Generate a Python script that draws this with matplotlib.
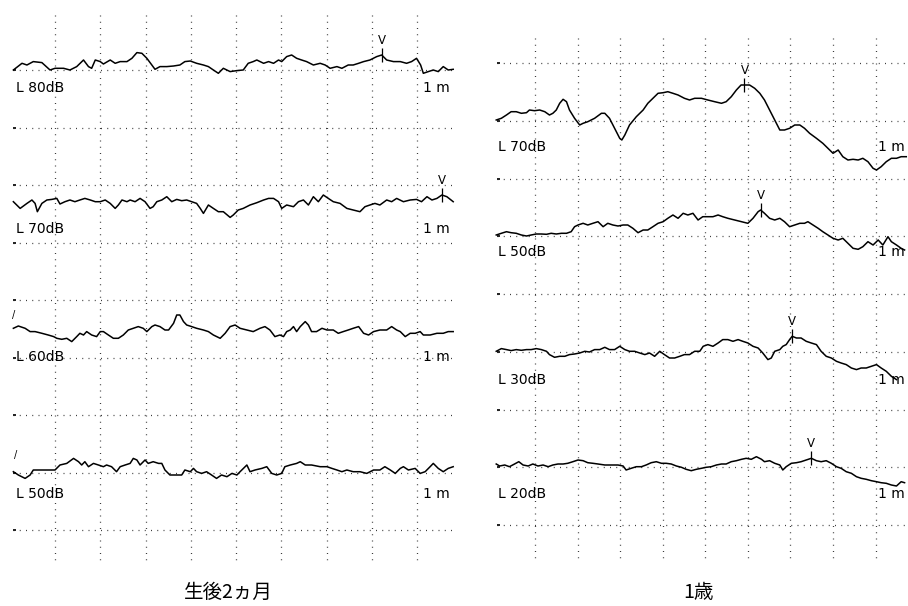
import numpy as np
import matplotlib
matplotlib.use('Agg')
import matplotlib.pyplot as plt

plt.rcParams['font.family'] = ['DejaVu Sans']

# --- left panel (2 months), times in ms, amplitudes in display units ---
t_l80 = [0.08, 0.27, 0.38, 0.52, 0.71, 0.89, 1.00, 1.19, 1.33, 1.48,
         1.63, 1.74, 1.81, 1.89, 2.00, 2.07, 2.22, 2.33, 2.44, 2.59,
         2.70, 2.81, 2.92, 3.03, 3.14, 3.21, 3.32, 3.47, 3.62, 3.76,
         3.87, 3.99, 4.13, 4.28, 4.39, 4.50, 4.61, 4.72, 4.87, 5.02,
         5.16, 5.27, 5.38, 5.46, 5.61, 5.72, 5.83, 5.94, 6.01, 6.12,
         6.23, 6.34, 6.45, 6.56, 6.71, 6.86, 6.97, 7.08, 7.23, 7.34,
         7.48, 7.59, 7.71, 7.82, 7.96, 8.11, 8.22, 8.33, 8.48, 8.63,
         8.77, 8.88, 8.99, 9.08, 9.14, 9.25, 9.36, 9.47, 9.58, 9.69, 9.80]
a_l80 = [-0.7, 6, 4.3, 7.7, 6.7, -0.7, 1, 1, -0.7, 2.7,
         9.3, 2.7, 1, 9.3, 7.7, 5.3, 9.3, 6, 7.7, 7.7,
         11, 16.7, 16, 11, 4.3, 0, 2.7, 2.7, 3.3, 4.3,
         7.7, 8.3, 6, 4.3, 2.7, -0.7, -4, 1, -2.3, -1.3,
         -0.7, 6, 7.7, 9.3, 6, 7.7, 6, 9.3, 7.7, 12.7,
         14.3, 11, 9.3, 7.7, 4.3, 6, 4.3, 1, 2.7, 1,
         4.3, 4.3, 6, 7.7, 9.3, 12.7, 14.3, 9.3, 7.7, 7.7,
         6, 7.7, 11, 4.3, -4, -2.3, -0.7, -2.3, 2.7, -0.7, 0]

t_l70 = [0.08, 0.23, 0.38, 0.49, 0.56, 0.61, 0.71, 0.82, 0.93, 1.04,
         1.11, 1.22, 1.33, 1.44, 1.55, 1.66, 1.78, 1.89, 2.00, 2.11,
         2.22, 2.33, 2.40, 2.48, 2.59, 2.66, 2.77, 2.88, 2.99, 3.10,
         3.17, 3.25, 3.36, 3.47, 3.58, 3.69, 3.80, 3.91, 4.02, 4.13,
         4.21, 4.28, 4.39, 4.50, 4.61, 4.72, 4.87, 4.94, 5.05, 5.16,
         5.31, 5.46, 5.61, 5.72, 5.83, 5.94, 6.01, 6.12, 6.27, 6.38,
         6.49, 6.60, 6.71, 6.82, 6.93, 7.04, 7.15, 7.30, 7.45, 7.59,
         7.74, 7.85, 7.96, 8.07, 8.18, 8.33, 8.44, 8.55, 8.70, 8.85,
         8.99, 9.10, 9.22, 9.33, 9.44, 9.55, 9.66, 9.80]
a_l70 = [0, -6.7, -1.7, 1.7, -1.7, -10, -1.7, 1.7, 2.3, 3.3,
         -2.3, 0, 1.7, 0, 1.7, 3.3, 1.7, 0, 0, 1.7,
         -1.7, -6.7, -3.3, 1.7, 0, 1.7, 0, 3.3, 0, -6.7,
         -5, 0, 1.7, 5, 0, 2.3, 1, 1.7, 0, -1.7,
         -6.7, -11.7, -3.3, -6.7, -10, -10, -15.7, -13.3, -8.3, -6.7,
         -3.3, -1, 1.7, 3.3, 3.3, 0, -6.7, -3.3, -5, 0,
         1.7, -3.3, 5, 0, 6.7, 3.3, 0, -1.7, -6.7, -8.3,
         -10, -5, -3.3, -1.7, -3.3, 1.7, 0, 3.3, 0, 1.7,
         2.3, 0, 5, 1.7, 3.3, 6.7, 5, 0]

t_l60 = [0.08, 0.19, 0.34, 0.45, 0.56, 0.71, 0.85, 0.97, 1.04, 1.15,
         1.26, 1.37, 1.48, 1.55, 1.63, 1.70, 1.81, 1.92, 2.00, 2.07,
         2.18, 2.29, 2.40, 2.51, 2.62, 2.73, 2.84, 2.95, 3.03, 3.14,
         3.21, 3.32, 3.43, 3.51, 3.62, 3.69, 3.76, 3.84, 3.91, 4.02,
         4.13, 4.28, 4.39, 4.50, 4.65, 4.76, 4.87, 4.98, 5.09, 5.24,
         5.38, 5.53, 5.64, 5.75, 5.86, 5.97, 6.05, 6.12, 6.20, 6.27,
         6.34, 6.42, 6.53, 6.60, 6.67, 6.78, 6.90, 7.01, 7.15, 7.26,
         7.37, 7.48, 7.59, 7.71, 7.82, 7.93, 8.04, 8.18, 8.33, 8.44,
         8.55, 8.63, 8.74, 8.85, 8.96, 9.07, 9.14, 9.29, 9.44, 9.58,
         9.69, 9.80]
a_l60 = [0, 2.3, 0, -3.3, -3.3, -5, -6.7, -8.3, -10, -11,
         -10, -13.3, -8.3, -5, -6.7, -3.3, -6.7, -8.3, -3.3, -3.3,
         -6.7, -10, -10, -6.7, -1.7, 0, 1.7, 0, -3.3, 1.7,
         3.3, 1.7, -1.7, -1.7, 5, 13.3, 13.3, 6.7, 3.3, 1.7,
         0, -1.7, -3.3, -6.7, -10, -5, 1.7, 3.3, 0, -1.7,
         -3.3, 0, 1.7, -1.7, -8.3, -6.7, -8.3, -3.3, -1.7, 1.7,
         -3.3, 1.7, 6.7, 3.3, -3.3, -3.3, 0, -1.7, -1.7, -5,
         -3.3, -1.7, 0, 1.7, -5, -6.7, -3.3, -1.7, -1.7, 1.7,
         -1.7, -3.3, -8.3, -5, -5, -3.3, -6.7, -6.7, -5, -5,
         -3.3, -3.3]

t_l50 = [0.08, 0.19, 0.34, 0.45, 0.52, 0.67, 0.82, 1.00, 1.11, 1.26,
         1.41, 1.52, 1.59, 1.66, 1.74, 1.85, 1.96, 2.07, 2.14, 2.25,
         2.36, 2.44, 2.55, 2.66, 2.73, 2.81, 2.88, 2.99, 3.06, 3.17,
         3.29, 3.36, 3.43, 3.54, 3.69, 3.80, 3.87, 3.99, 4.06, 4.13,
         4.24, 4.35, 4.46, 4.57, 4.68, 4.80, 4.91, 5.02, 5.09, 5.24,
         5.31, 5.42, 5.57, 5.68, 5.79, 5.90, 6.01, 6.08, 6.20, 6.34,
         6.42, 6.53, 6.67, 6.86, 7.01, 7.12, 7.23, 7.34, 7.45, 7.59,
         7.74, 7.89, 8.04, 8.18, 8.29, 8.41, 8.52, 8.63, 8.70, 8.81,
         8.96, 9.07, 9.18, 9.29, 9.36, 9.47, 9.58, 9.69, 9.80]
a_l50 = [0, -3.3, -6.7, -3.3, 1.7, 1.7, 1.7, 1.7, 6.7, 8.3,
         13.3, 10, 6.7, 10, 5, 8.3, 6.7, 5, 6.7, 5,
         0, 5, 6.7, 8.3, 13.3, 11.7, 6.7, 11.7, 8.3, 10,
         8.3, 8.3, 1.7, -3.3, -3.3, -3.3, 1.7, 0, 3.3, 0,
         -1.7, 0, -3.3, -6.7, -3.3, -5, -1.7, -3.3, 0, 6.7,
         0, 1.7, 3.3, 5, -1.7, -3.3, -1.7, 5, 6.7, 8.3,
         10, 6.7, 6.7, 5, 5, 3.3, 1.7, 0, 1.7, 0,
         0, -1.7, 1.7, 1.7, 5, 1.7, -1.7, 3.3, 5, 1.7,
         3.3, -1.7, 0, 5, 8.3, 3.3, 0, 3.3, 5]

# --- right panel (1 year) ---
t_r70 = [0.09, 0.21, 0.33, 0.44, 0.56, 0.68, 0.80, 0.87, 0.99, 1.11,
         1.23, 1.34, 1.42, 1.50, 1.58, 1.66, 1.74, 1.81, 1.93, 2.05,
         2.13, 2.24, 2.40, 2.56, 2.64, 2.75, 2.87, 2.99, 3.04, 3.11,
         3.22, 3.38, 3.54, 3.65, 3.77, 3.89, 4.01, 4.12, 4.24, 4.36,
         4.51, 4.63, 4.75, 4.91, 5.06, 5.22, 5.38, 5.49, 5.61, 5.73,
         5.84, 5.92, 6.04, 6.16, 6.28, 6.39, 6.51, 6.63, 6.75, 6.86,
         6.98, 7.10, 7.22, 7.33, 7.45, 7.61, 7.76, 7.88, 8.00, 8.12,
         8.23, 8.35, 8.47, 8.59, 8.70, 8.82, 8.94, 9.02, 9.13, 9.25,
         9.37, 9.49, 9.60, 9.72]
a_r70 = [0, 1.7, 5, 8.3, 8.3, 6.7, 7.3, 10, 9.3, 10,
         8.3, 5, 6.7, 10, 16.7, 20.7, 18.3, 10, 1.7, -5,
         -3.3, -1.7, 1.7, 6.7, 6.7, 1.7, -8.3, -18.3, -20, -15,
         -5, 3.3, 10, 16.7, 21.7, 26.7, 27.3, 28.3, 26.7, 25,
         21.7, 20, 21.7, 21.7, 20, 18.3, 16.7, 18.3, 23.3, 30,
         35, 35, 35, 31.7, 26.7, 20, 10, 0, -10, -10,
         -8.3, -5, -5, -8.3, -13.3, -18.3, -23.3, -28.3, -33.3, -30,
         -36.7, -40, -39.3, -40, -38.3, -41.7, -48.3, -50, -46.7, -41.7,
         -38.3, -38.3, -36.7, -36.7]

t_r50 = [0.09, 0.21, 0.33, 0.44, 0.56, 0.68, 0.80, 0.91, 1.03, 1.15,
         1.27, 1.38, 1.50, 1.62, 1.74, 1.85, 1.93, 2.01, 2.13, 2.24,
         2.36, 2.48, 2.60, 2.71, 2.83, 2.95, 3.07, 3.18, 3.30, 3.42,
         3.54, 3.65, 3.77, 3.89, 4.01, 4.12, 4.24, 4.36, 4.48, 4.59,
         4.71, 4.83, 4.94, 5.06, 5.18, 5.30, 5.41, 5.53, 5.69, 5.85,
         6.00, 6.12, 6.24, 6.30, 6.39, 6.51, 6.63, 6.75, 6.86, 6.98,
         7.10, 7.22, 7.33, 7.41, 7.53, 7.65, 7.76, 7.88, 8.00, 8.12,
         8.23, 8.35, 8.47, 8.59, 8.70, 8.82, 8.94, 9.06, 9.17, 9.29,
         9.37, 9.49, 9.60, 9.68]
a_r50 = [0, 1.7, 3.3, 2.3, 1.7, 0, -1, 0, 1, 1,
         0.7, 1.7, 1, 1.7, 1.7, 3.3, 8.3, 10, 11.7, 10,
         11.7, 13.3, 8.3, 11.7, 10, 9, 10, 10, 6.7, 2.3,
         5, 5, 8.3, 11.7, 13.3, 16.7, 20, 16.7, 21.7, 20,
         21.7, 15, 18.3, 18.3, 18.3, 20, 18.3, 16.7, 15, 13.3,
         11.7, 16.7, 23.3, 25, 21.7, 16.7, 15, 16.7, 13.3, 8.3,
         10, 11.7, 11.7, 13.3, 10, 6.7, 3.3, 0, -3.3, -5,
         -3.3, -8.3, -13.3, -14.3, -11.7, -6.7, -10, -5, -10, -1.7,
         -6.7, -10, -13.3, -15]

t_r30 = [0.09, 0.21, 0.33, 0.44, 0.56, 0.68, 0.80, 0.91, 1.03, 1.15,
         1.27, 1.34, 1.46, 1.58, 1.70, 1.81, 1.93, 2.05, 2.17, 2.28,
         2.40, 2.52, 2.64, 2.75, 2.87, 2.99, 3.11, 3.22, 3.34, 3.46,
         3.58, 3.69, 3.81, 3.93, 4.04, 4.16, 4.28, 4.40, 4.51, 4.63,
         4.75, 4.87, 4.95, 5.06, 5.18, 5.30, 5.41, 5.53, 5.65, 5.77,
         5.88, 6.00, 6.12, 6.24, 6.35, 6.47, 6.55, 6.63, 6.75, 6.82,
         6.90, 6.98, 7.04, 7.14, 7.25, 7.37, 7.49, 7.61, 7.72, 7.84,
         7.96, 8.08, 8.19, 8.31, 8.43, 8.55, 8.66, 8.78, 8.90, 9.02,
         9.13, 9.25, 9.37, 9.49]
a_r30 = [0, 2.7, 1.7, 0.7, 1.7, 1, 1.7, 1.7, 2.7, 1.7,
         0, -3.3, -6, -5, -5, -3.3, -2.7, -1.7, 0, -0.7,
         1.7, 1.7, 4, 1.7, 1.7, 5, 1.7, 0, 0, -1.7,
         -3.3, -1.7, -5, 0, -3.3, -6.7, -6.7, -5, -3.3, -3.3,
         0, 0, 5, 6.7, 5, 8.3, 11.7, 11.7, 10, 11.7,
         10, 8.3, 5, 3.3, -1.7, -8.3, -6.7, 0, 1.7, 5,
         6.7, 11.7, 15, 13.3, 13.3, 10, 8.3, 6.7, 0, -5,
         -6.7, -10, -11.7, -13.3, -16.7, -18.3, -16.7, -16.7, -15, -13.3,
         -16.7, -20, -25, -28.3]

t_r20 = [0.09, 0.17, 0.29, 0.40, 0.52, 0.62, 0.72, 0.84, 0.95, 1.07,
         1.19, 1.31, 1.42, 1.54, 1.66, 1.77, 1.89, 2.01, 2.13, 2.24,
         2.36, 2.48, 2.64, 2.79, 2.95, 3.07, 3.14, 3.26, 3.38, 3.50,
         3.61, 3.73, 3.85, 3.97, 4.08, 4.20, 4.32, 4.44, 4.55, 4.67,
         4.79, 4.91, 5.02, 5.14, 5.26, 5.38, 5.49, 5.61, 5.73, 5.85,
         5.96, 6.08, 6.20, 6.32, 6.39, 6.51, 6.63, 6.75, 6.82, 6.90,
         7.02, 7.14, 7.25, 7.37, 7.49, 7.61, 7.72, 7.84, 7.96, 8.08,
         8.19, 8.31, 8.43, 8.55, 8.66, 8.78, 8.90, 9.02, 9.13, 9.25,
         9.37, 9.49, 9.60, 9.68]
a_r20 = [0, -2, -1, -2.7, 0, 2.3, -1, -2, 0, -2,
         -1, -2.7, -1, 0, 0, 0.7, 2.3, 4, 3.3, 1.3,
         0.7, 0, -1, -1, -1, -2, -6, -4.3, -2.7, -2.7,
         -1, 1.3, 2.3, 0.7, 0.7, 0, -2, -3.3, -5.3, -6.7,
         -5.3, -4.3, -3.3, -2.7, -1, 0, 0, 2.3, 3.3, 4.7,
         5.7, 4.7, 7.3, 4.7, 2.3, 3.3, 0.7, -1, -6, -2.7,
         0.7, 1.3, 2.3, 4, 5.7, 3.3, 2.3, 3.3, 0.7, -2.7,
         -4.3, -7.7, -9.3, -12.7, -14.3, -15.3, -16.7, -17.7, -18.7, -19.3,
         -21, -22, -17.7, -18.7]

left_labels = ['L 80dB', 'L 70dB', 'L 60dB', 'L 50dB']
right_labels = ['L 70dB', 'L 50dB', 'L 30dB', 'L 20dB']
left_wave_v = [8.22, 9.55, None, None]     # wave V latency (ms)
right_wave_v = [5.92, 6.30, 7.04, 7.49]
scale_text = '1 m'
titles = ['生後2ヵ月', '1歳']

W, H = 908, 606
fig = plt.figure(figsize=(W / 100, H / 100), dpi=100)
fig.patch.set_facecolor('white')

DOT = (0, (0.8, 4.2))
GRID_C = '#3c3c3c'


def panel(x0px, px_per_ms, x1px, traces, bases, labels, label_y, wave_v,
          hl_y, hl_x0, vl_top, ms_x, lab_x):
    ax = fig.add_axes([x0px / W, 0, (x1px - x0px) / W, 1])
    xmax = (x1px - x0px) / px_per_ms
    ax.set_xlim(0, xmax)
    ax.set_ylim(H, 0)
    ax.axis('off')
    # dotted grid
    ax.vlines(np.arange(1, 10), vl_top, 563, colors=GRID_C, lw=0.9, linestyles=[DOT])
    ax.hlines(hl_y, hl_x0, xmax, colors=GRID_C, lw=0.9, linestyles=[DOT])
    ax.hlines(hl_y, hl_x0, hl_x0 + 0.07, colors='#222222', lw=1.4)
    for (t, a), base, lab, ly, v in zip(traces, bases, labels, label_y, wave_v):
        t = np.asarray(t)
        y = base - np.asarray(a)
        ax.plot(t, y, color='black', lw=1.1, solid_joinstyle='round')
        ax.text(lab_x, ly, lab, fontsize=10, ha='left', va='center')
        ax.text(ms_x, ly, scale_text, fontsize=10, ha='right', va='center')
        if v is not None:
            yv = base - np.interp(v, t, a)
            ax.vlines(v, yv - 7, yv + 7, colors='black', lw=0.9)
            ax.text(v, yv - 8, 'V', fontsize=8.5, ha='center', va='bottom')
    return ax


axl = panel(9.75, 45.25, 455,
            [(t_l80, a_l80), (t_l70, a_l70), (t_l60, a_l60), (t_l50, a_l50)],
            [69.3, 201.7, 328.3, 471.7], left_labels, [88, 229, 357, 494],
            left_wave_v, 70 + 57.5 * np.arange(9), 0.07, 15, 9.73, 0.14)
# small start marks on the 60dB and 50dB traces
axl.text(0.09, 315, '/', fontsize=7, ha='center', va='center')
axl.text(0.12, 455, '/', fontsize=7, ha='center', va='center')

axr = panel(492.4, 42.58, 908,
            [(t_r70, a_r70), (t_r50, a_r50), (t_r30, a_r30), (t_r20, a_r20)],
            [120, 235, 351.3, 464], right_labels, [147, 252, 380, 494],
            right_wave_v, 63 + 57.75 * np.arange(9), 0.11, 38, 9.69, 0.13)

cjk = ['Noto Sans CJK JP', 'DejaVu Sans']
fig.text(228 / W, 1 - 592 / H, titles[0], family=cjk, fontsize=14,
         ha='center', va='center')
fig.text(698 / W, 1 - 592 / H, titles[1], family=cjk, fontsize=14,
         ha='center', va='center')

fig.savefig('out.png', dpi=100, facecolor='white')
